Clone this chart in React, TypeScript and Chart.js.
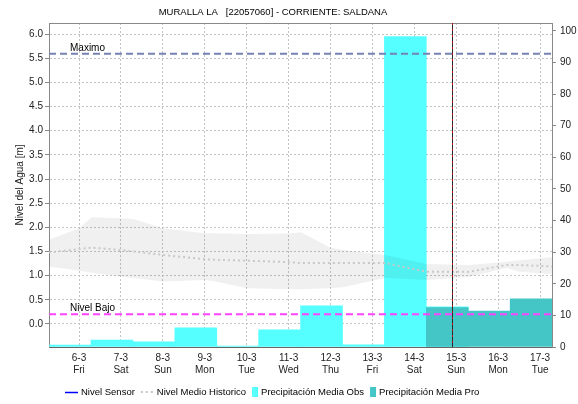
import React, { useEffect, useRef } from "react";
import { Chart, registerables } from "chart.js";

Chart.register(...registerables);

// ---------- data ----------
const TITLE = "MURALLA LA   [22057060] - CORRIENTE: SALDANA";
const DAY_LABELS = ["6-3", "7-3", "8-3", "9-3", "10-3", "11-3", "12-3", "13-3", "14-3", "15-3", "16-3", "17-3"];
const WEEKDAYS = ["Fri", "Sat", "Sun", "Mon", "Tue", "Wed", "Thu", "Fri", "Sat", "Sun", "Mon", "Tue"];

// precipitation (mm), one value per day (right axis)
const OBS_PRECIP: (number | null)[] = [0.6, 2.2, 1.6, 6.1, 0.3, 5.4, 13.0, 0.7, 98.2, 12.7, null, null];
const PRO_PRECIP: (number | null)[] = [null, null, null, null, null, null, null, null, null, 12.5, 11.4, 15.2];

// historic level (m) – positions in days from 6-3
const HIST_X = [-0.72, 0, 0.3, 1, 1.3, 2, 3, 3.2, 4, 5, 5.3, 6, 6.3, 7.3, 8.3, 9.3, 10.2, 10.5, 11.3];
const HIST_UPPER = [1.74, 1.98, 2.21, 2.19, 2.17, 1.98, 1.88, 1.88, 1.86, 1.87, 1.9, 1.58, 1.53, 1.43, 1.24, 1.22, 1.29, 1.32, 1.39];
const HIST_LOWER = [1.19, 1.1, 1.06, 0.98, 0.95, 0.88, 0.91, 0.89, 0.74, 0.72, 0.72, 0.74, 0.76, 0.95, 0.91, 0.97, 1.16, 1.08, 1.03];
const HIST_MEAN = [1.48, 1.55, 1.58, 1.53, 1.5, 1.43, 1.34, 1.33, 1.31, 1.28, 1.26, 1.26, 1.26, 1.26, 1.08, 1.08, 1.22, 1.22, 1.19];

const NIVEL_SENSOR: { x: number; y: number }[] = [];

const MAXIMO = 5.59;
const NIVEL_BAJO = 0.2;
const NOW_DAY = 8.89;

const LEFT_TICKS = [0, 0.5, 1, 1.5, 2, 2.5, 3, 3.5, 4, 4.5, 5, 5.5, 6];
const RIGHT_TICKS = [0, 10, 20, 30, 40, 50, 60, 70, 80, 90, 100];

// ---------- layout / style ----------
const X_MIN = -0.716;
const X_MAX = 11.284;
const BAR_SHIFT = -0.214; // hydrological day 07:00 -> 07:00
const FONT_FAMILY = "'Liberation Sans', Arial, sans-serif";
const FONT_SIZE = 10;
const SMALL_FONT_SIZE = 9.5;
const TEXT_COLOR = "#222";
const GRID_COLOR = "#c4c4c4";
const AXIS_COLOR = "#888";
const OBS_COLOR = "#55ffff";
const PRO_COLOR = "#44c6c6";
const MEAN_COLOR = "#c8c8c8";
const BAND_COLOR = "rgba(0,0,0,0.06)";

const decorPlugin = {
  id: "decor",
  afterDatasetsDraw(chart: any) {
    const { ctx, chartArea, scales } = chart;
    const x = scales.x;
    const y = scales.y;
    ctx.save();
    // top border
    ctx.strokeStyle = AXIS_COLOR;
    ctx.lineWidth = 1;
    ctx.beginPath();
    ctx.moveTo(chartArea.left, chartArea.top + 0.5);
    ctx.lineTo(chartArea.right, chartArea.top + 0.5);
    ctx.stroke();
    // now line
    const nx = Math.round(x.getPixelForValue(NOW_DAY)) + 0.5;
    ctx.strokeStyle = "#2a2a2a";
    ctx.beginPath();
    ctx.moveTo(nx, chartArea.top);
    ctx.lineTo(nx, chartArea.bottom);
    ctx.stroke();
    ctx.strokeStyle = "#c01010";
    ctx.setLineDash([2, 4]);
    ctx.beginPath();
    ctx.moveTo(nx, chartArea.top);
    ctx.lineTo(nx, chartArea.bottom);
    ctx.stroke();
    ctx.setLineDash([]);
    // reference labels
    ctx.fillStyle = "#000";
    ctx.font = `${FONT_SIZE}px ${FONT_FAMILY}`;
    ctx.textAlign = "left";
    ctx.textBaseline = "alphabetic";
    ctx.fillText("Maximo", chartArea.left + 21, y.getPixelForValue(MAXIMO) - 3);
    ctx.fillText("Nivel Bajo", chartArea.left + 21, y.getPixelForValue(NIVEL_BAJO) - 3);
    ctx.restore();
  },
  afterDraw(chart: any) {
    const { ctx } = chart;
    ctx.save();
    ctx.font = `${SMALL_FONT_SIZE}px ${FONT_FAMILY}`;
    ctx.fillStyle = "#000";
    // title
    ctx.textAlign = "center";
    ctx.textBaseline = "middle";
    ctx.fillText(TITLE, 273, 12);
    // legend
    const items = [
      { label: "Nivel Sensor", kind: "line" },
      { label: "Nivel Medio Historico", kind: "dots" },
      { label: "Precipitación Media Obs", kind: "box", color: OBS_COLOR },
      { label: "Precipitación Media Pro", kind: "box", color: PRO_COLOR },
    ];
    let lx = 65;
    const ly = 392;
    ctx.textAlign = "left";
    for (const it of items) {
      if (it.kind === "line") {
        ctx.strokeStyle = "#0000ff";
        ctx.lineWidth = 1.5;
        ctx.beginPath();
        ctx.moveTo(lx, ly + 0.5);
        ctx.lineTo(lx + 13, ly + 0.5);
        ctx.stroke();
        lx += 16;
      } else if (it.kind === "dots") {
        ctx.strokeStyle = MEAN_COLOR;
        ctx.lineWidth = 2;
        ctx.setLineDash([2, 3]);
        ctx.beginPath();
        ctx.moveTo(lx, ly);
        ctx.lineTo(lx + 13, ly);
        ctx.stroke();
        ctx.setLineDash([]);
        lx += 16;
      } else {
        ctx.fillStyle = it.color as string;
        ctx.fillRect(lx, ly - 5, 6, 10);
        lx += 9;
      }
      ctx.fillStyle = "#000";
      ctx.fillText(it.label, lx, ly);
      lx += ctx.measureText(it.label).width + 6;
    }
    ctx.restore();
  },
};

export default function App() {
  const ref = useRef<HTMLCanvasElement | null>(null);

  useEffect(() => {
    if (!ref.current) return;
    const font = { family: FONT_FAMILY, size: FONT_SIZE };
    const chart = new Chart(ref.current, {
      type: "bar",
      data: {
        datasets: [
          {
            type: "line",
            label: "Nivel Sensor",
            data: NIVEL_SENSOR,
            borderColor: "#0000ff",
            borderWidth: 1.5,
            pointRadius: 0,
            yAxisID: "y",
            order: 0,
          },
          {
            type: "line",
            label: "Maximo",
            data: [{ x: X_MIN, y: MAXIMO }, { x: X_MAX, y: MAXIMO }],
            borderColor: "#7682b4",
            borderWidth: 2,
            borderDash: [7, 4],
            pointRadius: 0,
            yAxisID: "y",
            order: 1,
          },
          {
            type: "line",
            label: "Nivel Bajo",
            data: [{ x: X_MIN, y: NIVEL_BAJO }, { x: X_MAX, y: NIVEL_BAJO }],
            borderColor: "#ff44ff",
            borderWidth: 2,
            borderDash: [7, 4],
            pointRadius: 0,
            yAxisID: "y",
            order: 1,
          },
          {
            type: "line",
            label: "Nivel Medio Historico",
            data: HIST_X.map((x, i) => ({ x, y: HIST_MEAN[i] })),
            borderColor: MEAN_COLOR,
            borderWidth: 2,
            borderDash: [2, 3],
            pointRadius: 0,
            tension: 0,
            yAxisID: "y",
            order: 2,
          },
          {
            type: "line",
            label: "Historico Max",
            data: HIST_X.map((x, i) => ({ x, y: HIST_UPPER[i] })),
            borderWidth: 0,
            borderColor: "rgba(0,0,0,0)",
            backgroundColor: BAND_COLOR,
            fill: "+1",
            pointRadius: 0,
            tension: 0,
            yAxisID: "y",
            order: 3,
          },
          {
            type: "line",
            label: "Historico Min",
            data: HIST_X.map((x, i) => ({ x, y: HIST_LOWER[i] })),
            borderWidth: 0,
            borderColor: "rgba(0,0,0,0)",
            pointRadius: 0,
            tension: 0,
            fill: false,
            yAxisID: "y",
            order: 4,
          },
          {
            type: "bar",
            label: "Precipitación Media Pro",
            data: PRO_PRECIP.map((v, i) => ({ x: i + BAR_SHIFT, y: v })) as any,
            backgroundColor: PRO_COLOR,
            borderWidth: 0,
            barPercentage: 1,
            categoryPercentage: 1,
            grouped: false,
            yAxisID: "y1",
            order: 5,
          },
          {
            type: "bar",
            label: "Precipitación Media Obs",
            data: OBS_PRECIP.map((v, i) => ({ x: i + BAR_SHIFT, y: v })) as any,
            backgroundColor: OBS_COLOR,
            borderWidth: 0,
            barPercentage: 1,
            categoryPercentage: 1,
            grouped: false,
            yAxisID: "y1",
            order: 6,
          },
        ] as any,
      },
      options: {
        animation: false,
        responsive: false,
        maintainAspectRatio: false,
        devicePixelRatio: 1,
        layout: { padding: { top: 23, bottom: 27, left: 0, right: 0 } },
        plugins: {
          legend: { display: false },
          title: { display: false },
          tooltip: { enabled: false },
        },
        scales: {
          x: {
            type: "linear",
            offset: false,
            min: X_MIN,
            max: X_MAX,
            afterBuildTicks: (s: any) => {
              s.ticks = DAY_LABELS.map((_, i) => ({ value: i }));
            },
            afterFit: (s: any) => {
              s.height = 30;
            },
            ticks: {
              autoSkip: false,
              maxRotation: 0,
              font,
              color: TEXT_COLOR,
              padding: 5,
              callback: (_v: any, i: number) => [DAY_LABELS[i], WEEKDAYS[i]],
            },
            grid: { color: GRID_COLOR, drawTicks: false, offset: false },
            border: { color: "#666", dash: [2, 2] },
          },
          y: {
            type: "linear",
            position: "left",
            min: -0.476,
            max: 6.228,
            afterBuildTicks: (s: any) => {
              s.ticks = LEFT_TICKS.map((v) => ({ value: v }));
            },
            afterFit: (s: any) => {
              s.width = 49;
            },
            ticks: {
              font,
              color: TEXT_COLOR,
              padding: 2,
              callback: (v: any) => Number(v).toFixed(1),
            },
            grid: { color: GRID_COLOR, tickLength: 4, tickColor: AXIS_COLOR, tickBorderDash: [] },
            border: { color: AXIS_COLOR, dash: [2, 2] },
            title: {
              display: true,
              text: "Nivel del Agua [m]",
              font,
              color: TEXT_COLOR,
              padding: { top: 14, bottom: 0 },
            },
          },
          y1: {
            type: "linear",
            position: "right",
            min: 0,
            max: 102.5,
            afterBuildTicks: (s: any) => {
              s.ticks = RIGHT_TICKS.map((v) => ({ value: v }));
            },
            afterFit: (s: any) => {
              s.width = 26;
            },
            ticks: { font, color: TEXT_COLOR, padding: 4 },
            grid: { drawOnChartArea: false, tickLength: 4, tickColor: AXIS_COLOR },
            border: { color: AXIS_COLOR },
          },
        },
      } as any,
      plugins: [decorPlugin],
    });
    return () => chart.destroy();
  }, []);

  return (
    <div style={{ position: "fixed", left: 0, top: 0, width: 578, height: 404, background: "#fff" }}>
      <canvas ref={ref} width={578} height={404} style={{ width: 578, height: 404, display: "block" }} />
    </div>
  );
}
